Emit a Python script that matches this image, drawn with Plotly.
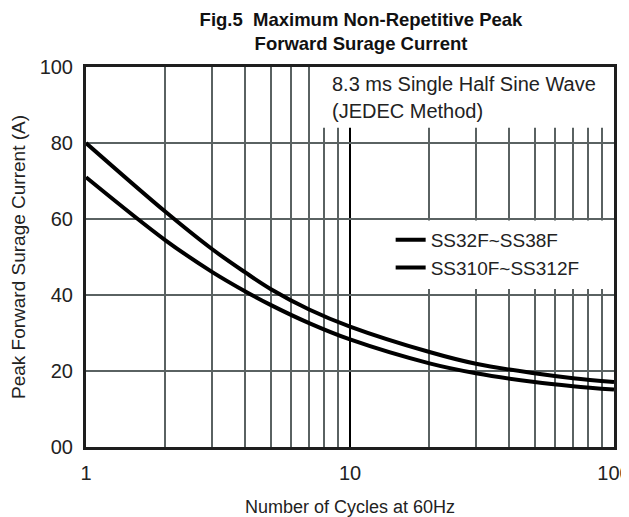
import plotly.graph_objects as go

# ---- data ----
cycles = [1, 2, 3, 4, 5, 7, 10, 20, 30, 50, 70, 100]
ss32f_ss38f = [80, 61.9, 52.1, 46.0, 41.6, 36.2, 31.7, 25.0, 21.9, 19.4, 18.1, 17.1]
ss310f_ss312f = [71, 54.4, 46.1, 41.0, 37.4, 32.6, 28.3, 22.0, 19.4, 17.1, 16.0, 15.1]
series_names = ["SS32F~SS38F", "SS310F~SS312F"]

x_tickvals = [1, 10, 100]
x_ticktext = ["1", "10", "100"]
x_minor_vals = [2, 3, 4, 5, 6, 7, 8, 9, 20, 30, 40, 50, 60, 70, 80, 90]
y_tickvals = [0, 20, 40, 60, 80, 100]
y_ticktext = ["00", "20", "40", "60", "80", "100"]

title_text = "Fig.5  Maximum Non-Repetitive Peak<br>Forward Surage Current"
note_lines = ["8.3 ms Single Half Sine Wave", "(JEDEC Method)"]
x_title = "Number of Cycles at 60Hz"
y_title = "Peak Forward Surage Current (A)"

FONT = "Liberation Sans, Arial, sans-serif"
GRID = "#5a6262"
AXIS = "#1e1e1e"

fig = go.Figure()
for name, vals in zip(series_names, [ss32f_ss38f, ss310f_ss312f]):
    fig.add_trace(go.Scatter(
        x=cycles, y=vals, name=name, mode="lines",
        line=dict(color="black", width=4, shape="spline", smoothing=1.0),
    ))

# white boxes behind the note and the legend (cover gridlines)
fig.add_shape(type="rect", xref="x", yref="y", x0=7.24, x1=100, y0=84, y1=100,
              fillcolor="white", line=dict(width=0), layer="between")
fig.add_shape(type="rect", xref="x", yref="y", x0=10.3, x1=100, y0=41.6, y1=59.6,
              fillcolor="white", line=dict(width=0), layer="between")

fig.add_annotation(xref="x domain", yref="y", x=0.4625, y=95.4, text=note_lines[0],
                   showarrow=False, xanchor="left", yanchor="middle",
                   font=dict(family=FONT, size=20, color="#222"))
fig.add_annotation(xref="x domain", yref="y", x=0.4625, y=88.3, text=note_lines[1],
                   showarrow=False, xanchor="left", yanchor="middle",
                   font=dict(family=FONT, size=20, color="#222"))

fig.update_layout(
    width=621, height=509,
    margin=dict(l=78, r=15, t=59, b=70),
    paper_bgcolor="white", plot_bgcolor="white",
    font=dict(family=FONT, color="#222"),
    title=dict(text=title_text, x=353 / 621, xref="container", xanchor="center",
               y=1 - 18 / 509, yref="container", yanchor="middle",
               font=dict(family=FONT, size=18.5, color="#111", weight="bold")),
    showlegend=True,
    legend=dict(x=0.577, y=0.595, xanchor="left", yanchor="top",
                bgcolor="rgba(0,0,0,0)", borderwidth=0,
                font=dict(family=FONT, size=19, color="#222"),
                tracegroupgap=0),
)

fig.update_xaxes(
    type="log", range=[0, 2], automargin=False,
    tickvals=x_tickvals, ticktext=x_ticktext, ticks="",
    tickfont=dict(family=FONT, size=20, color="#222"),
    ticklabelstandoff=6, ticklabeloverflow="allow",
    showgrid=True, gridcolor="black", gridwidth=1.5,
    minor=dict(tickvals=x_minor_vals, showgrid=True, gridcolor=GRID, gridwidth=2, ticks=""),
    showline=True, linecolor=AXIS, linewidth=3, mirror=True,
    zeroline=False,
    title=dict(text=x_title, font=dict(family=FONT, size=18, color="#222"), standoff=20),
)
fig.update_yaxes(
    range=[0, 100], automargin=False,
    tickvals=y_tickvals, ticktext=y_ticktext, ticks="",
    tickfont=dict(family=FONT, size=20, color="#222"),
    ticklabelstandoff=6,
    showgrid=True, gridcolor=GRID, gridwidth=2,
    showline=True, linecolor=AXIS, linewidth=3, mirror=True,
    zeroline=False,
    title=dict(text=y_title, font=dict(family=FONT, size=19, color="#222"), standoff=11),
)

fig.write_html("out.html")
